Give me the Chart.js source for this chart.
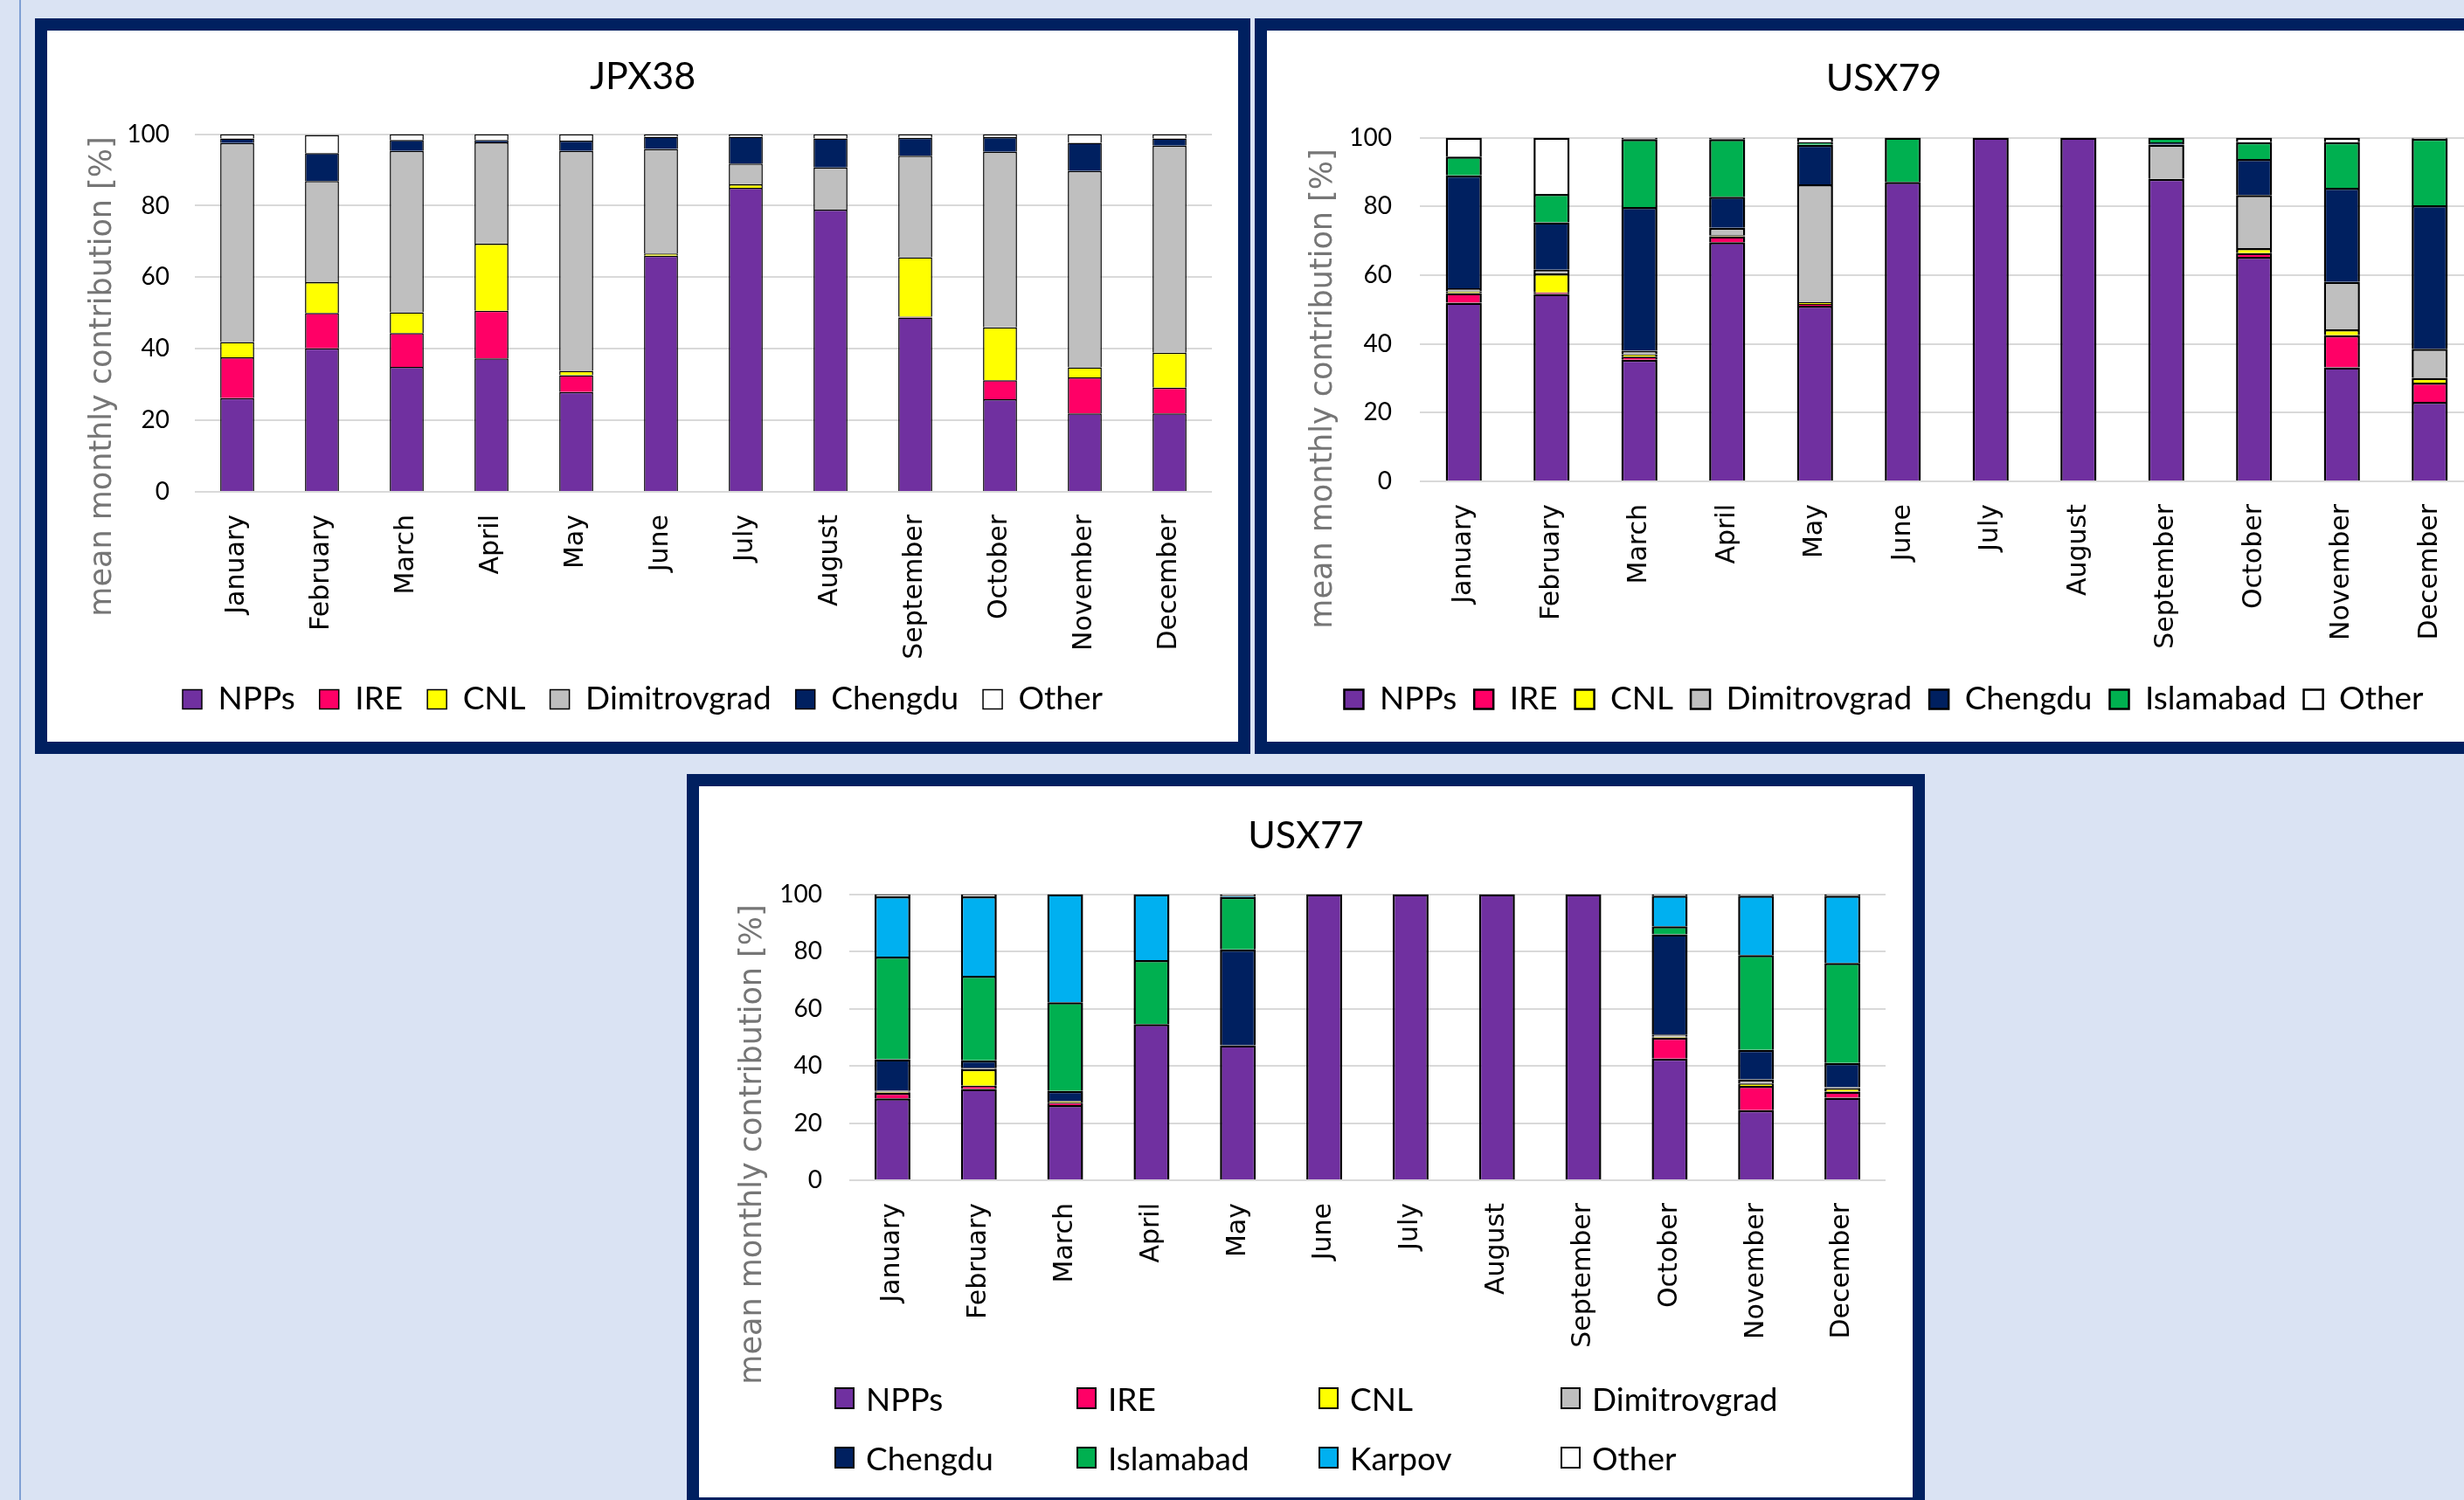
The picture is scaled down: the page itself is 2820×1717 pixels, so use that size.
<!DOCTYPE html>
<html>
<head>
<meta charset="utf-8">
<title>Monthly source contributions</title>
<script src="https://cdn.jsdelivr.net/npm/chart.js@4.4.1/dist/chart.umd.min.js"></script>
<style>
  body { margin: 0; width: 2820px; height: 1717px; overflow: hidden; background: #dae3f3; position: relative; }
  .rule { position: absolute; left: 22px; top: 0; width: 2px; height: 1717px; background: #7f9fd4; }
  .panel { position: absolute; border: 14px solid #002060; background: #fff; }
  .panel canvas { display: block; }
  #p1 { left: 40px; top: 21px; }
  #p2 { left: 1436px; top: 21px; }
  #p3 { left: 786px; top: 886px; }
  .leg { position: absolute; height: 50px; display: flex; align-items: center; white-space: nowrap;
         font-family: Lato, sans-serif; font-size: 37px; color: #000; }
  .leg i { display: inline-block; width: 19px; height: 21px; border: 2px solid #000; margin-right: 13px; }
</style>
</head>
<body>
<div class="rule"></div>
<div class="panel" id="p1"><canvas id="c1" width="1363" height="814"></canvas></div>
<div class="panel" id="p2"><canvas id="c2" width="1412" height="814"></canvas></div>
<div class="panel" id="p3"><canvas id="c3" width="1389" height="814"></canvas></div>
<script>
const months = ['January', 'February', 'March', 'April', 'May', 'June',
                'July', 'August', 'September', 'October', 'November', 'December'];

// JPX38
const jpxNpps    = [26.2, 40.1, 34.9, 37.3, 27.9, 66.0, 85.0, 78.9, 48.7, 25.9, 21.9, 21.9];
const jpxIre     = [11.4, 9.9, 9.5, 13.3, 4.7, 0, 0, 0, 0.3, 5.3, 10.1, 7.2];
const jpxCnl     = [4.3, 8.6, 5.8, 18.8, 1.2, 0.6, 1.0, 0, 16.6, 14.8, 2.8, 9.8];
const jpxDimitro = [55.6, 28.3, 45.1, 28.3, 61.5, 29.3, 5.8, 11.8, 28.4, 49.1, 54.9, 57.9];
const jpxChengdu = [1.3, 7.8, 3.1, 0.7, 2.9, 3.4, 7.5, 8.1, 5.0, 4.1, 7.9, 2.0];
const jpxOther   = [1.2, 5.1, 1.6, 1.6, 1.8, 0.7, 0.7, 1.2, 1.0, 0.8, 2.4, 1.2];

// USX79
const u79Npps      = [52.0, 54.5, 35.4, 69.6, 51.1, 87.1, 100, 100, 88.0, 65.3, 33.2, 23.1];
const u79Ire       = [2.8, 0.5, 0.9, 1.7, 0.5, 0, 0, 0, 0, 1.1, 9.3, 5.6];
const u79Cnl       = [0.5, 5.5, 0.7, 0.3, 0.5, 0, 0, 0, 0, 1.5, 1.7, 1.4];
const u79Dimitro   = [0.9, 1.1, 1.0, 2.2, 34.3, 0, 0, 0, 10.0, 15.4, 13.8, 8.5];
const u79Chengdu   = [32.8, 13.8, 41.8, 9.0, 11.5, 0, 0, 0, 0.6, 10.5, 27.4, 41.7];
const u79Islamabad = [5.5, 8.2, 19.8, 16.8, 0.8, 12.9, 0, 0, 1.4, 4.9, 13.3, 19.4];
const u79Other     = [5.5, 16.4, 0.4, 0.4, 1.3, 0, 0, 0, 0, 1.3, 1.3, 0.3];

// USX77
const u77Npps      = [28.6, 31.9, 26.3, 54.6, 47.2, 100, 100, 100, 100, 42.5, 24.5, 28.9];
const u77Ire       = [2.0, 1.2, 0.8, 0, 0, 0, 0, 0, 0, 7.4, 8.5, 2.1];
const u77Cnl       = [0.4, 5.8, 0.4, 0, 0, 0, 0, 0, 0, 0.3, 0.8, 1.2];
const u77Dimitro   = [0.4, 0.4, 0.3, 0, 0, 0, 0, 0, 0, 0.7, 1.5, 0.3];
const u77Chengdu   = [10.9, 2.6, 3.4, 0, 33.5, 0, 0, 0, 0, 35.1, 10.3, 8.5];
const u77Islamabad = [35.9, 29.6, 31.0, 22.4, 18.3, 0, 0, 0, 0, 2.8, 33.1, 35.0];
const u77Karpov    = [21.1, 27.8, 37.8, 23.0, 0.5, 0, 0, 0, 0, 10.7, 20.8, 23.5];
const u77Other     = [0.7, 0.7, 0, 0, 0.5, 0, 0, 0, 0, 0.5, 0.5, 0.5];

const colors = {
  NPPs: '#7030a0', IRE: '#ff0066', CNL: '#ffff00', Dimitrovgrad: '#bfbfbf',
  Chengdu: '#002060', Islamabad: '#00b050', Karpov: '#00b0f0', Other: '#ffffff'
};
const sans = 'Lato, sans-serif';

// rotated y axis title, placed a little lower than the plot centre like the original
const yTitlePlugin = {
  id: 'yTitle',
  afterDraw(chart, args, opts) {
    const ctx = chart.ctx;
    ctx.save();
    ctx.translate(opts.x, opts.y);
    ctx.rotate(-Math.PI / 2);
    ctx.font = '35px "DejaVu Sans"';
    ctx.fillStyle = '#767676';
    ctx.textAlign = 'center';
    ctx.textBaseline = 'middle';
    ctx.fillText('mean monthly contribution [%]', 0, 0);
    ctx.restore();
  }
};

function makeChart(id, title, series, g) {
  const datasets = series.map(([name, values]) => ({
    label: name,
    data: values.map(v => v || null),
    backgroundColor: colors[name],
    borderColor: '#000',
    borderWidth: g.border,
    barPercentage: g.bar,
    categoryPercentage: 1
  }));
  return new Chart(document.getElementById(id), {
    type: 'bar',
    data: { labels: months, datasets: datasets },
    plugins: [yTitlePlugin],
    options: {
      responsive: false,
      animation: false,
      devicePixelRatio: 1,
      // same padding both sides so the title and legend stay centred on the panel
      layout: { padding: { left: g.side, right: g.side, top: 0, bottom: g.padBottom } },
      plugins: {
        title: {
          display: true, text: title, color: '#000',
          font: { family: sans, size: 43, weight: 'normal' },
          padding: { top: g.titleTop, bottom: g.titleBottom }
        },
        legend: {
          display: g.legend, position: 'bottom',
          labels: { boxWidth: 22, boxHeight: 22, padding: g.legendPad, color: '#000',
                    font: { family: sans, size: 37 } }
        },
        tooltip: { enabled: false },
        yTitle: { x: g.yTitleX, y: g.yTitleY }
      },
      scales: {
        x: {
          stacked: true,
          grid: { display: false },
          border: { display: false },
          ticks: { minRotation: 90, maxRotation: 90, autoSkip: false, padding: 18, color: '#000',
                   font: { family: 'DejaVu Sans', size: 30 } },
          afterFit: s => { s.height = g.xHeight; }
        },
        y: {
          stacked: true, min: 0, max: 100,
          ticks: { stepSize: 20, padding: g.tickPad, color: '#000', font: { family: sans, size: 28 } },
          grid: { color: '#d9d9d9', lineWidth: 2, drawTicks: false },
          border: { display: false },
          afterFit: s => { s.width = g.plotLeft - g.side; }
        }
      }
    }
  });
}

makeChart('c1', 'JPX38', [
  ['NPPs', jpxNpps], ['IRE', jpxIre], ['CNL', jpxCnl], ['Dimitrovgrad', jpxDimitro],
  ['Chengdu', jpxChengdu], ['Other', jpxOther]
], { border: 1.5, bar: 0.4, side: 30, padBottom: 20, titleTop: 27, titleBottom: 40,
     legend: true, legendPad: 28, xHeight: 191, plotLeft: 169, tickPad: 29, yTitleX: 64, yTitleY: 396 });

makeChart('c2', 'USX79', [
  ['NPPs', u79Npps], ['IRE', u79Ire], ['CNL', u79Cnl], ['Dimitrovgrad', u79Dimitro],
  ['Chengdu', u79Chengdu], ['Islamabad', u79Islamabad], ['Other', u79Other]
], { border: 2.5, bar: 0.41, side: 31, padBottom: 20, titleTop: 29, titleBottom: 42,
     legend: true, legendPad: 20, xHeight: 211, plotLeft: 175, tickPad: 32, yTitleX: 65, yTitleY: 410 });

const u77Series = [
  ['NPPs', u77Npps], ['IRE', u77Ire], ['CNL', u77Cnl], ['Dimitrovgrad', u77Dimitro],
  ['Chengdu', u77Chengdu], ['Islamabad', u77Islamabad], ['Karpov', u77Karpov], ['Other', u77Other]
];
makeChart('c3', 'USX77', u77Series,
  { border: 2.5, bar: 0.415, side: 31, padBottom: 163, titleTop: 31, titleBottom: 41,
    legend: false, legendPad: 20, xHeight: 200, plotLeft: 172, tickPad: 31, yTitleX: 62, yTitleY: 410 });

// USX77 legend laid out in a 4 x 2 grid as in the original
const p3 = document.getElementById('p3');
u77Series.forEach(([name], i) => {
  const item = document.createElement('div');
  item.className = 'leg';
  item.style.left = (155 + (i % 4) * 277) + 'px';
  item.style.top = (Math.floor(i / 4) === 0 ? 675 : 743) + 'px';
  const box = document.createElement('i');
  box.style.background = colors[name];
  item.appendChild(box);
  item.appendChild(document.createTextNode(name));
  p3.appendChild(item);
});
</script>
</body>
</html>
